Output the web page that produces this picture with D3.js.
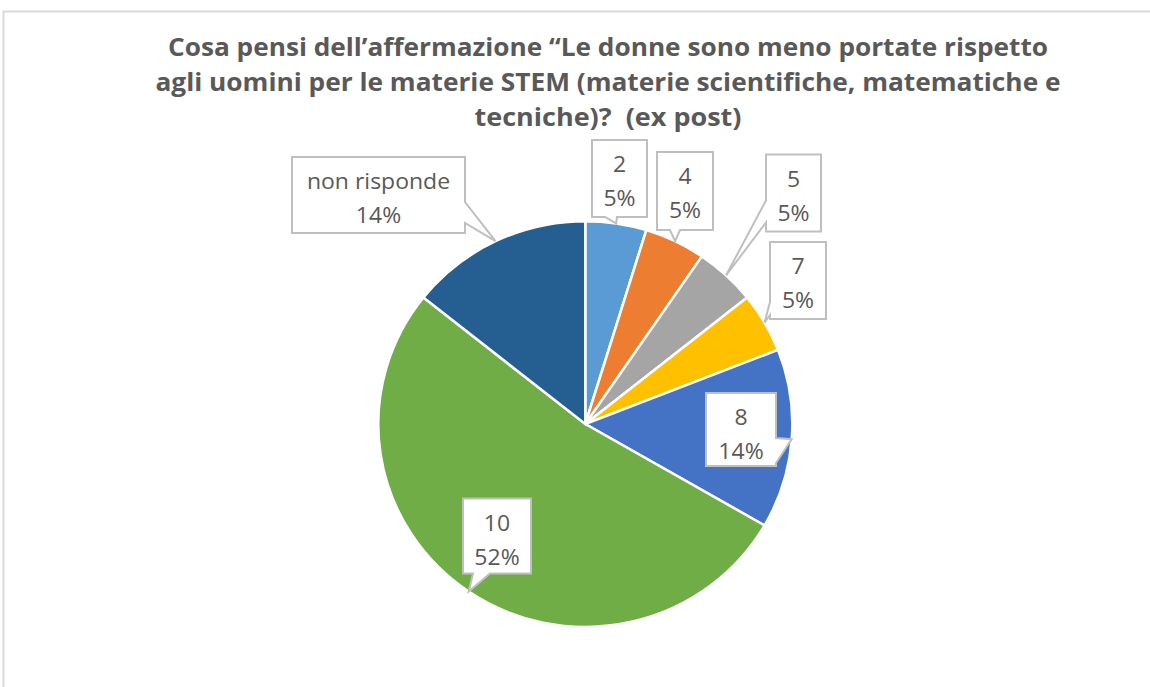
<!DOCTYPE html>
<html>
<head>
<meta charset="utf-8">
<script src="https://cdn.jsdelivr.net/npm/d3@7"></script>
<style>
  html, body { margin: 0; padding: 0; background: #fff; }
  svg { display: block; }
</style>
</head>
<body>
<svg id="chart" width="1150" height="687"></svg>
<script>
// ---- data ----
const categories = ["2", "4", "5", "7", "8", "10", "non risponde"];
const counts = [1, 1, 1, 1, 3, 11, 3];
const colors = ["#5B9BD5", "#ED7D31", "#A5A5A5", "#FFC000", "#4472C4", "#70AD47", "#255E91"];
const titleLines = [
  "Cosa pensi dell\u2019affermazione \u201cLe donne sono meno portate rispetto",
  "agli uomini per le materie STEM (materie scientifiche, matematiche e",
  "tecniche)?  (ex post)"
];

// ---- layout (not data) ----
const W = 1150, H = 687;
const cx = 585.3, cy = 424, R = 207, sy = 0.98;
const titleWidths = [880, 905, 267];
// label boxes: center x/y, width, height, tail side, tail base offsets
const labelBoxes = [
  {x: 619.5, y: 178.5, w: 55, h: 77, side: "bottom", a: 13, b: 25},
  {x: 685,   y: 191,   w: 56, h: 78, side: "bottom", a: 13, b: 23},
  {x: 793.5, y: 193,   w: 55, h: 77, side: "left",   a: 46, b: 68},
  {x: 798,   y: 280.5, w: 56, h: 77, side: "left",   a: 60, b: 73},
  {x: 741,   y: 429.5, w: 70, h: 73, side: "right",  a: 45, b: 70},
  {x: 497,   y: 536,   w: 68, h: 75, side: "bottom", a: 10, b: 27},
  {x: 378.5, y: 195,   w: 173, h: 76, side: "right", a: 45, b: 66}
];

const svg = d3.select("#chart");

// outer chart border
svg.append("rect")
  .attr("x", 3.5).attr("y", 11.5)
  .attr("width", W + 20).attr("height", H + 20)
  .attr("fill", "#fff")
  .attr("stroke", "#d9d9d9").attr("stroke-width", 2);

// title
const title = svg.append("g");
titleLines.forEach((t, i) => {
  title.append("text")
    .attr("x", 608)
    .attr("y", 56 + i * 35)
    .attr("text-anchor", "middle")
    .attr("font-family", "'Open Sans', 'Liberation Sans', sans-serif")
    .attr("font-weight", 700)
    .attr("font-size", 25.5)
    .attr("fill", "#595959")
    .attr("textLength", titleWidths[i])
    .attr("lengthAdjust", "spacingAndGlyphs")
    .style("white-space", "pre")
    .text(t);
});

// pie
const total = d3.sum(counts);
const data = categories.map((c, i) => ({cat: c, value: counts[i], color: colors[i], box: labelBoxes[i]}));
const pie = d3.pie().value(d => d.value).sort(null).startAngle(0).endAngle(2 * Math.PI);
const arcs = pie(data);
const arc = d3.arc().innerRadius(0).outerRadius(R);
const edge = d3.arc().innerRadius(R).outerRadius(R);

const g = svg.append("g").attr("transform", `translate(${cx},${cy}) scale(1,${sy})`);
g.selectAll("path.slice")
  .data(arcs)
  .join("path")
  .attr("class", "slice")
  .attr("d", arc)
  .attr("fill", d => d.data.color)
  .attr("stroke", "#fff")
  .attr("stroke-width", 2.5)
  .attr("vector-effect", "non-scaling-stroke");

// callouts
const fmt = d3.format(".0%");
function calloutPath(b, tip) {
  const x = b.x - b.w / 2, y = b.y - b.h / 2, w = b.w, h = b.h;
  const p = d3.path();
  p.moveTo(x, y);
  p.lineTo(x + w, y);
  if (b.side === "right") {
    p.lineTo(x + w, y + b.a); p.lineTo(tip[0], tip[1]); p.lineTo(x + w, y + b.b);
  }
  p.lineTo(x + w, y + h);
  if (b.side === "bottom") {
    p.lineTo(x + b.b, y + h); p.lineTo(tip[0], tip[1]); p.lineTo(x + b.a, y + h);
  }
  p.lineTo(x, y + h);
  if (b.side === "left") {
    p.lineTo(x, y + b.b); p.lineTo(tip[0], tip[1]); p.lineTo(x, y + b.a);
  }
  p.closePath();
  return p.toString();
}

const labels = svg.append("g");
arcs.forEach(d => {
  const c = edge.centroid(d);
  const tip = [cx + c[0], cy + c[1] * sy];
  const b = d.data.box;
  const lg = labels.append("g");
  lg.append("path")
    .attr("d", calloutPath(b, tip))
    .attr("fill", "#fff")
    .attr("stroke", "#bfbfbf")
    .attr("stroke-width", 2)
    .attr("stroke-linejoin", "miter");
  const top = b.y - b.h / 2;
  const lines = [d.data.cat, fmt(d.data.value / total)];
  lines.forEach((t, i) => {
    lg.append("text")
      .attr("transform", `translate(${b.x},${top + 32 + i * 34}) scale(1.07,1)`)
      .attr("text-anchor", "middle")
      .attr("font-family", "'Open Sans', 'Liberation Sans', sans-serif")
      .attr("font-size", 21.5)
      .attr("fill", "#595959")
      .text(t);
  });
});
</script>
</body>
</html>
